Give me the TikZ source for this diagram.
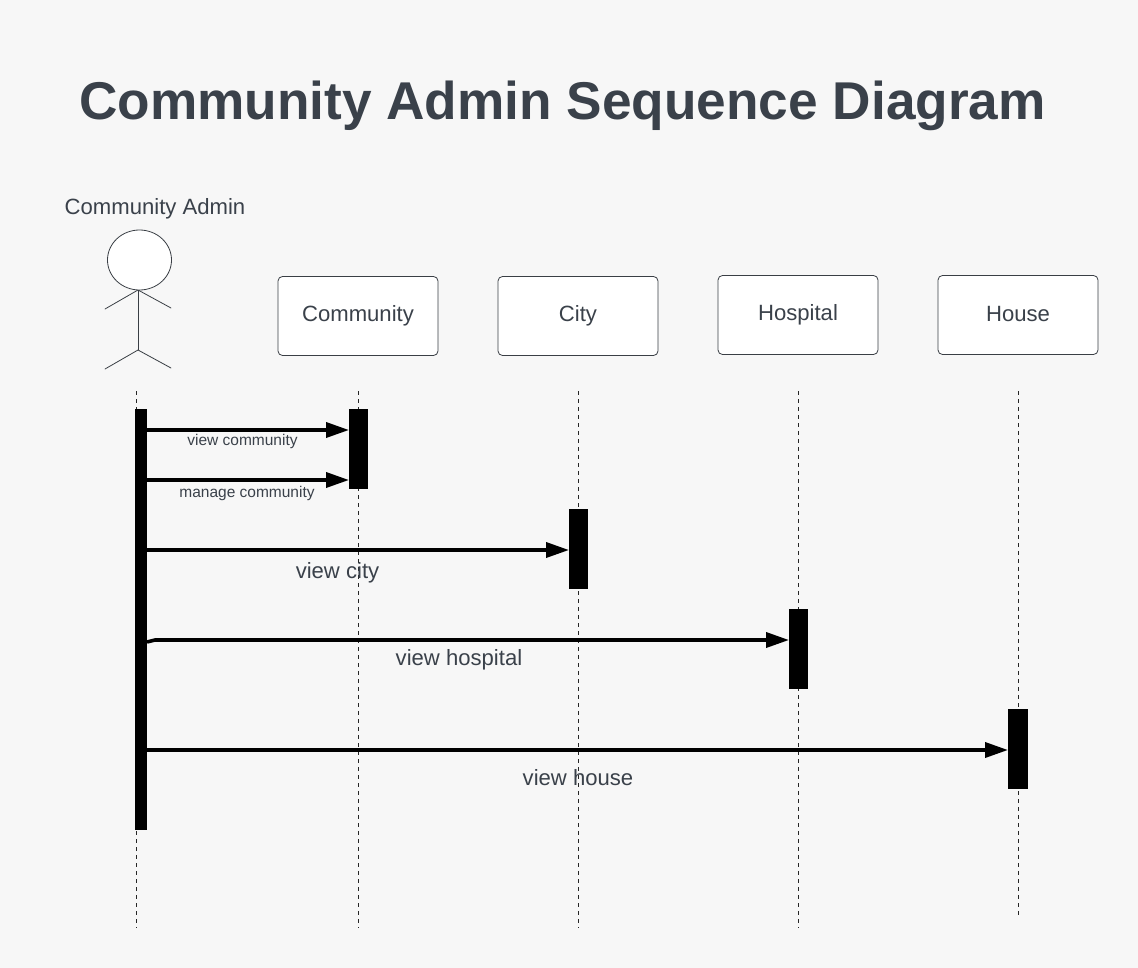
\documentclass[tikz,border=0pt]{standalone}
\usepackage{fontspec}
\setmainfont{Liberation Sans}
\usetikzlibrary{arrows.meta,calc,shapes.geometric}
\definecolor{bgc}{HTML}{F7F7F7}
\definecolor{txt}{HTML}{3A414A}
\definecolor{edge}{HTML}{3A3F45}
\tikzset{
  obj/.style={draw=edge,line width=0.8pt,fill=white,rounded corners=4.5pt,minimum width=160pt,minimum height=79pt,inner sep=0pt,text=txt,font=\fontsize{22.1}{26}\selectfont},
  lbl/.style={text=txt,inner sep=0pt,anchor=base},
  small/.style={lbl,font=\fontsize{15.5}{18}\selectfont},
  big/.style={lbl,font=\fontsize{22.1}{26}\selectfont},
  bar/.style={fill=black,draw=none,minimum height=80pt,inner sep=0pt,outer sep=0pt},
  life/.style={draw=black!85,line width=0.65pt,dash pattern=on 4pt off 4pt},
  msg/.style={draw=black,line width=3.6pt,-{Triangle[length=23pt,width=15pt]},shorten >=0pt},
  fig/.style={draw=edge,line width=0.8pt,line cap=round}
}
\begin{document}
\begin{tikzpicture}[x=1pt,y=-1pt]
\useasboundingbox (0,0) rectangle (1138,968);
\fill[bgc] (0,0) rectangle (1138,968);
\node[lbl,font=\bfseries\fontsize{53.2}{60}\selectfont] (title) at (562.5,119.5) {Community Admin Sequence Diagram};
\node[big] (actorname) at (155,215) {Community Admin};
% actor
\coordinate (neck) at (138,290);
\coordinate (hip) at (138,350);
\coordinate (handl) at (105,309);
\coordinate (handr) at (171,308);
\coordinate (footl) at (105,369);
\coordinate (footr) at (171,368);
\draw[fig] (handl) -- (neck) -- (handr);
\draw[fig] (neck) -- (hip);
\draw[fig] (footl) -- (hip) -- (footr);
\node[draw=edge,line width=0.8pt,fill=white,ellipse,minimum width=64pt,minimum height=60pt,inner sep=0pt] (head) at (139.5,260) {};
% objects
\node[obj] (community) at (358,316) {\raisebox{3pt}{Community}};
\node[obj] (city) at (578,316) {\raisebox{3pt}{City}};
\node[obj] (hospital) at (798,315) {\raisebox{3pt}{Hospital}};
\node[obj] (house) at (1018,315) {\raisebox{3pt}{House}};
% lifeline ends
\coordinate (l0t) at (136.5,391); \coordinate (l0b) at (136.5,928);
\coordinate (l1t) at (358.5,391); \coordinate (l1b) at (358.5,928);
\coordinate (l2t) at (578,391); \coordinate (l2b) at (578,928);
\coordinate (l3t) at (798.5,391); \coordinate (l3b) at (798.5,928);
\coordinate (l4t) at (1018.5,391); \coordinate (l4b) at (1018.5,918);
\foreach \i in {0,...,4}{\draw[life] (l\i t) -- (l\i b);}
% activation bars
\node[bar,minimum width=12pt,minimum height=421pt] (a0) at (141,619.5) {};
\node[bar,minimum width=19pt] (a1) at (358.5,449) {};
\node[bar,minimum width=19pt] (a2) at (578.5,549) {};
\node[bar,minimum width=19pt] (a3) at (798.5,649) {};
\node[bar,minimum width=20pt] (a4) at (1018,749) {};
% messages
\draw[msg] (a0.east |- 0,430) -- (a1.west |- 0,430);
\draw[msg] (a0.east |- 0,480) -- (a1.west |- 0,480);
\draw[msg] (a0.east |- 0,550) -- (a2.west |- 0,550);
\draw[msg] (a0.east |- 0,642) -- (155,640) -- (a3.west |- 0,640);
\draw[msg] (a0.east |- 0,750) -- (a4.west |- 0,750);
% labels
\node[small] (m1) at (242.5,445) {view community};
\node[small] (m2) at (247,497) {manage community};
\node[big] (m3) at (337.5,578) {view city};
\node[big] (m4) at (459,665) {view hospital};
\node[big] (m5) at (578,785) {view house};
\end{tikzpicture}
\end{document}
